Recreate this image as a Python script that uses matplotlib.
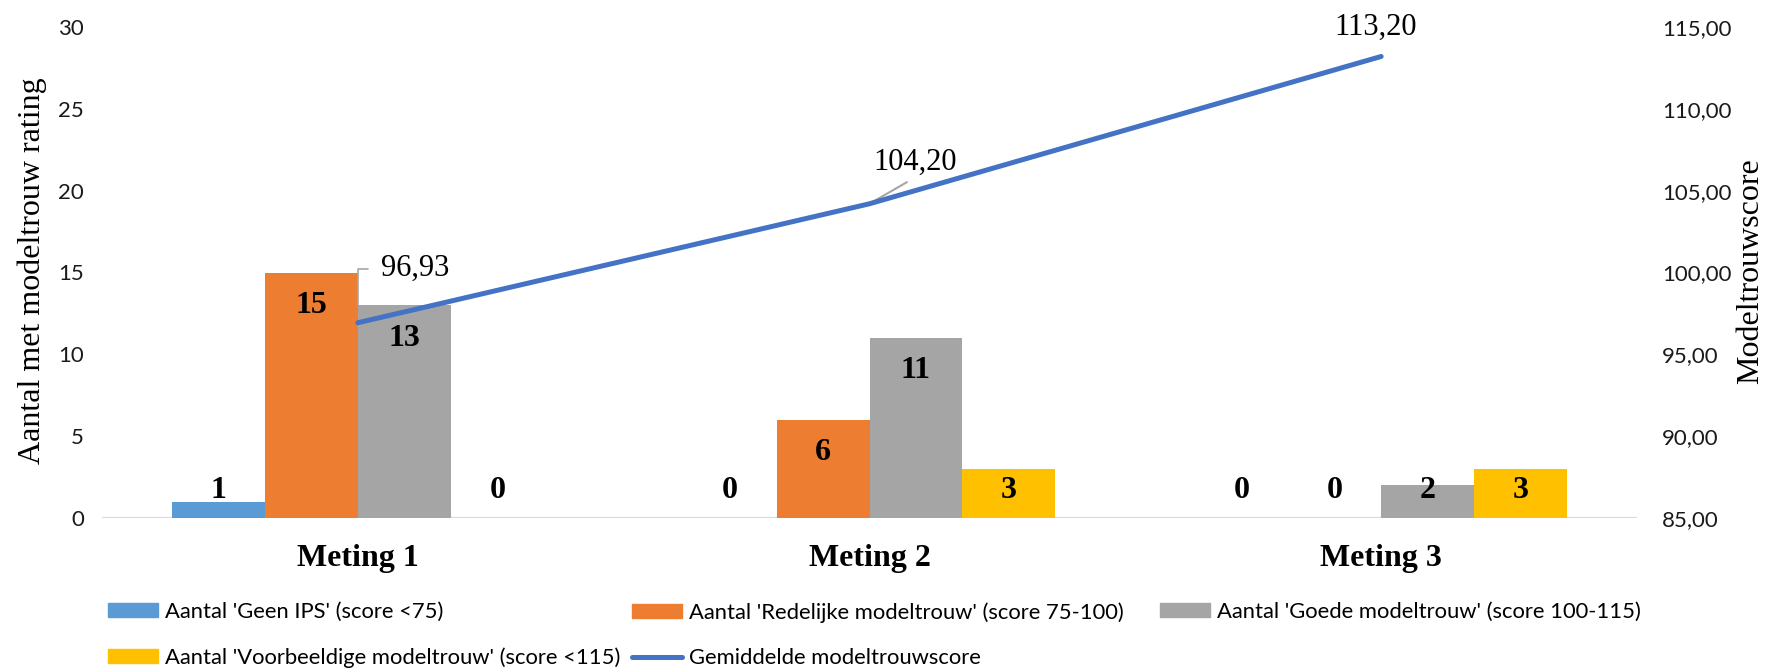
import matplotlib
matplotlib.use("Agg")
import matplotlib.pyplot as plt
from matplotlib.lines import Line2D
from matplotlib.patches import Patch

# ---- data -------------------------------------------------------------
categories = ["Meting 1", "Meting 2", "Meting 3"]
geen_ips = [1, 0, 0]
redelijk = [15, 6, 0]
goed = [13, 11, 2]
voorbeeldig = [0, 3, 3]
gemiddelde = [96.93, 104.20, 113.20]

series_labels = [
    "Aantal 'Geen IPS' (score <75)",
    "Aantal 'Redelijke modeltrouw' (score 75-100)",
    "Aantal 'Goede modeltrouw' (score 100-115)",
    "Aantal 'Voorbeeldige modeltrouw' (score <115)",
]
line_label = "Gemiddelde modeltrouwscore"
left_ticks = [0, 5, 10, 15, 20, 25, 30]
right_ticks = [85, 90, 95, 100, 105, 110, 115]

# ---- style ------------------------------------------------------------
bar_colors = ["#5B9BD5", "#ED7D31", "#A5A5A5", "#FFC000"]
line_color = "#4472C4"
serif = ["Liberation Serif", "DejaVu Serif"]
sans = ["Lato", "DejaVu Sans"]
tick_color = "#1a1a1a"

W, H, DPI = 1778, 670, 100
fig = plt.figure(figsize=(W / DPI, H / DPI), dpi=DPI)
ax = fig.add_axes([102 / W, 1 - 518 / H, (1637 - 102) / W, (518 - 27) / H])
ax2 = ax.twinx()

x = list(range(len(categories)))
bw = 0.1817
series = [geen_ips, redelijk, goed, voorbeeldig]
offsets = [-1.5, -0.5, 0.5, 1.5]

ax.set_xlim(-0.5, len(categories) - 0.5)
ax.set_ylim(0, 30)
ax2.set_ylim(85, 115)

for vals, off, col, lab in zip(series, offsets, bar_colors, series_labels):
    xs = [xi + off * bw for xi in x]
    ax.bar(xs, vals, width=bw, color=col, label=lab, zorder=2)

# baseline
ax.axhline(0, color="#D9D9D9", lw=1.6, zorder=1)

# bar value labels: inside the top of tall bars, just above the base otherwise
px_per_unit = (518 - 27) / 30.0
pt = 72.0 / DPI
for vals, off in zip(series, offsets):
    for xi, v in zip(x, vals):
        xb = xi + off * bw
        if v * px_per_unit - 33 >= 28:
            xy, dy = (xb, v), -33 * pt
        else:
            xy, dy = (xb, 0), 28 * pt
        ax.annotate(str(v), xy=xy, xytext=(0, dy), textcoords="offset points",
                    ha="center", va="center", fontsize=23, fontweight="bold",
                    family=serif, color="black", zorder=3)

# average score line
ax2.plot(x, gemiddelde, color=line_color, lw=3.6, solid_capstyle="round",
         zorder=4, label=line_label)

def fmt(v):
    return f"{v:.2f}".replace(".", ",")

leader = "#A6A6A6"
ax2.annotate(fmt(gemiddelde[0]), xy=(x[0], gemiddelde[0]), xytext=(41, 39),
             textcoords="offset points", ha="center", va="center",
             fontsize=22, family=serif, color="black",
             arrowprops=dict(arrowstyle="-", color=leader, lw=1.2,
                             connectionstyle="angle,angleA=0,angleB=90,rad=0",
                             relpos=(0, 0.5), shrinkA=7, shrinkB=13))
ax2.annotate(fmt(gemiddelde[1]), xy=(x[1], gemiddelde[1]), xytext=(33, 29.5),
             textcoords="offset points", ha="center", va="center",
             fontsize=22, family=serif, color="black",
             arrowprops=dict(arrowstyle="-", color=leader, lw=1.5,
                             relpos=(0.5, 0), shrinkA=3, shrinkB=1))
ax2.annotate(fmt(gemiddelde[2]), xy=(x[2], gemiddelde[2]), xytext=(-4, 21),
             textcoords="offset points", ha="center", va="center",
             fontsize=22, family=serif, color="black")

# axes and ticks
for a in (ax, ax2):
    for s in a.spines.values():
        s.set_visible(False)
    a.tick_params(length=0)

ax.set_xticks(x)
ax.set_xticklabels(categories, fontsize=23, fontweight="bold", family=serif)
ax.tick_params(axis="x", pad=19)
ax.set_yticks(left_ticks)
ax.set_yticklabels([str(t) for t in left_ticks], fontsize=16, family=sans,
                   color=tick_color)
ax.tick_params(axis="y", pad=13)
ax2.set_yticks(right_ticks)
ax2.set_yticklabels([fmt(t) for t in right_ticks], fontsize=16, family=sans,
                    color=tick_color)
ax2.tick_params(axis="y", pad=18)

fig.text(32 / W, 1 - 271 / H, "Aantal met modeltrouw rating", rotation=90,
         ha="center", va="center", fontsize=23, family=serif)
fig.text(1751 / W, 1 - 271 / H, "Modeltrouwscore", rotation=90,
         ha="center", va="center", fontsize=23, family=serif)

# legend: three columns, filled row by row
handles = [Patch(color=c) for c in bar_colors]
line_handle = Line2D([], [], color=line_color, lw=3.6, solid_capstyle="round")
legend_columns = [
    (108, [handles[0], handles[3]], [series_labels[0], series_labels[3]]),
    (632, [handles[1], line_handle], [series_labels[1], line_label]),
    (1160, [handles[2]], [series_labels[2]]),
]
for x0, hs, ls in legend_columns:
    fig.legend(hs, ls, loc="upper left", bbox_to_anchor=(x0 / W, 1 - 602 / H),
               frameon=False, prop=dict(family=sans, size=15.8),
               handlelength=2.3, handleheight=0.6, handletextpad=0.3,
               labelspacing=1.16, borderpad=0, borderaxespad=0)

fig.savefig("out.png", dpi=DPI)
